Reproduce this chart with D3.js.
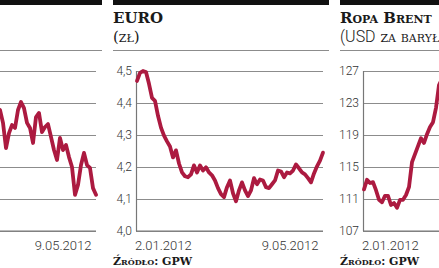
<!DOCTYPE html>
<html>
<head>
<meta charset="utf-8">
<script src="https://cdn.jsdelivr.net/npm/d3@7"></script>
<style>
  body { margin: 0; background: #fff; }
  svg { display: block; }
  .title { font-family: "DejaVu Serif", serif; font-weight: bold; font-size: 15px; fill: #1a1a1a; font-variant: small-caps; }
  .unit { font-family: "DejaVu Serif", serif; font-size: 15px; fill: #1a1a1a; font-variant: small-caps; }
  .num { font-family: Roboto, sans-serif; font-weight: 300; font-size: 12px; fill: #333; }
  .date { font-family: Roboto, sans-serif; font-weight: 300; font-size: 13px; fill: #333; }
  .src { font-family: "DejaVu Serif", serif; font-weight: bold; font-size: 11px; fill: #1a1a1a; font-variant: small-caps; }
</style>
</head>
<body>
<svg id="chart" width="439" height="268"></svg>
<script>
// values sampled evenly between 2.01.2012 and the last session
const wigValues = [2150, 2165, 2180, 2170, 2195, 2210, 2230, 2225, 2245, 2260,
  2250, 2270, 2290, 2285, 2300, 2320, 2310, 2335, 2350, 2340,
  2330, 2355, 2370, 2360, 2345, 2365, 2380, 2390, 2370, 2385,
  2378, 2338, 2259, 2306, 2331, 2322, 2378, 2403, 2384, 2338,
  2322, 2275, 2356, 2369, 2309, 2325, 2334, 2294, 2253, 2222,
  2291, 2253, 2269, 2231, 2200, 2113, 2144, 2206, 2244, 2206,
  2197, 2134, 2113];
const euroValues = [4.469, 4.494, 4.500, 4.497, 4.460, 4.416, 4.407, 4.360, 4.323, 4.298,
  4.280, 4.264, 4.230, 4.252, 4.211, 4.183, 4.171, 4.168, 4.177, 4.205,
  4.183, 4.205, 4.189, 4.199, 4.183, 4.174, 4.158, 4.134, 4.115, 4.106,
  4.137, 4.158, 4.118, 4.093, 4.127, 4.152, 4.127, 4.109, 4.127, 4.165,
  4.146, 4.161, 4.158, 4.137, 4.134, 4.146, 4.158, 4.189, 4.186, 4.168,
  4.183, 4.180, 4.189, 4.208, 4.196, 4.183, 4.177, 4.165, 4.152, 4.180,
  4.202, 4.220, 4.245];
const brentValues = [112.2, 113.4, 113.0, 113.1, 112.1, 110.9, 110.6, 111.4, 111.4, 110.25,
  110.5, 109.9, 110.9, 110.9, 111.5, 112.5, 115.6, 116.6, 117.6, 118.6,
  118.0, 119.1, 120.0, 120.6, 122.4, 125.25, 126.0, 126.4, 125.5, 124.8,
  125.6, 126.2, 125.0, 124.0, 123.2, 124.1, 123.5, 122.6, 121.8, 122.5,
  121.0, 120.2, 119.5, 120.4, 119.8, 118.9, 119.6, 120.3, 119.2, 118.5,
  119.4, 120.0, 118.8, 118.0, 117.2, 117.9, 116.8, 115.9, 116.5, 115.4,
  114.6, 113.8, 113.1];

const wigTicks = [2000, 2100, 2200, 2300, 2400, 2500];
const euroTicks = [4.0, 4.1, 4.2, 4.3, 4.4, 4.5];
const brentTicks = [107, 111, 115, 119, 123, 127];

const titles = ["WIG20", "EURO", "Ropa Brent"];
const units = [["(pkt)"], ["(zł)"], ["(USD", " za baryłkę)"]];
const dateLabels = ["2.01.2012", "9.05.2012"];
const dateIndex = [0, 51];
const source = "Źródło: GPW";

const plLocale = d3.formatLocale({ decimal: ",", thousands: " ", grouping: [3], currency: ["", " zł"] });

const panels = [
  { values: wigValues, ticks: wigTicks, fmt: d3.format("d") },
  { values: euroValues, ticks: euroTicks, fmt: plLocale.format(".1f") },
  { values: brentValues, ticks: brentTicks, fmt: d3.format("d") }
];

const svg = d3.select("#chart");
const lineColor = "#ac1a40";
const gridColor = "#8c8c8c";
const pitch = 227, firstAxis = -91;
const plotW = 187, plotTop = 71, plotBottom = 231;

panels.forEach((p, i) => {
  const ax = firstAxis + pitch * i;
  const g = svg.append("g").attr("transform", `translate(${ax},0)`);

  const x = d3.scaleLinear().domain([0, p.values.length - 1]).range([1, plotW]);
  const y = d3.scaleLinear().domain(d3.extent(p.ticks)).range([plotBottom, plotTop]);

  // header
  g.append("rect").attr("x", -23).attr("y", 0).attr("width", plotW + 29).attr("height", 5).attr("fill", "#111");
  g.append("line").attr("x1", -23).attr("x2", plotW + 6).attr("y1", 50.5).attr("y2", 50.5)
    .attr("stroke", gridColor).attr("stroke-width", 1.2);
  g.append("text").attr("class", "title").attr("x", -23).attr("y", 23).text(titles[i]);
  const u = g.append("text").attr("class", "unit").attr("x", -23).attr("y", 42);
  units[i].forEach((t, k) => {
    const sans = k === 0 && units[i].length > 1;
    u.append("tspan").text(t)
      .style("font-family", sans ? "Roboto, sans-serif" : null)
      .style("font-weight", sans ? 300 : null)
      .style("font-size", sans ? "16px" : null);
  });

  // grid + y labels
  const yAxis = d3.axisLeft(y).tickValues(p.ticks).tickFormat(p.fmt).tickSize(-plotW).tickPadding(4);
  const ya = g.append("g").call(yAxis);
  ya.select(".domain").remove();
  ya.selectAll(".tick line").attr("stroke", gridColor).attr("stroke-width", 1.2);
  ya.selectAll(".tick text").attr("class", "num").attr("fill", null);
  ya.attr("font-family", null).attr("font-size", null);

  // axis frame: left and bottom
  g.append("line").attr("x1", 0.5).attr("x2", 0.5).attr("y1", plotTop).attr("y2", plotBottom)
    .attr("stroke", "#777").attr("stroke-width", 1.2);
  g.append("line").attr("x1", 0).attr("x2", plotW).attr("y1", plotBottom).attr("y2", plotBottom)
    .attr("stroke", "#777").attr("stroke-width", 1.2);

  // series
  const line = d3.line().x((d, k) => x(k)).y(d => y(d));
  g.append("path").datum(p.values).attr("d", line)
    .attr("fill", "none").attr("stroke", lineColor).attr("stroke-width", 3.8)
    .attr("stroke-linejoin", "round").attr("stroke-linecap", "round");

  // date labels
  dateLabels.forEach((t, k) => {
    g.append("text").attr("class", "date")
      .attr("x", k === 0 ? x(dateIndex[k]) - 2 : x(dateIndex[k]))
      .attr("y", 250)
      .attr("text-anchor", k === 0 ? "start" : "middle")
      .text(t);
  });

  g.append("text").attr("class", "src").attr("x", -23).attr("y", 265).text(source);
});

// the first panel sits mostly outside the frame: drop labels that land fully off it
svg.selectAll("text").each(function () {
  const b = this.getBBox();
  const m = this.getCTM();
  if (b.x + b.width + m.e <= 0) d3.select(this).remove();
});
</script>
</body>
</html>
